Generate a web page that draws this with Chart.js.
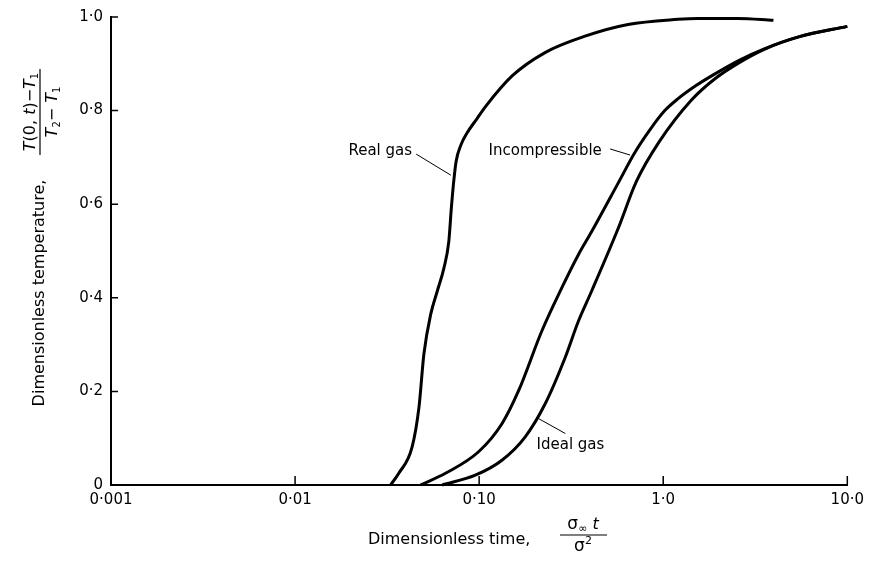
<!DOCTYPE html>
<html>
<head>
<meta charset="utf-8">
<script src="https://cdn.jsdelivr.net/npm/chart.js@4.4.1/dist/chart.umd.min.js"></script>
<style>
  html, body { margin: 0; padding: 0; background: #fff; }
  #wrap { width: 870px; height: 561px; }
</style>
</head>
<body>
<div id="wrap"><canvas id="tempchart" width="870" height="561"></canvas></div>
<script>
// values: dimensionless time (log) vs dimensionless temperature
const realGasTime = [0.033, 0.0366, 0.0432, 0.0471, 0.0501, 0.0545, 0.0592, 0.0643, 0.0684, 0.0706, 0.0728,
  0.075, 0.0795, 0.0859, 0.097, 0.108, 0.151, 0.228, 0.376, 0.644, 1.2, 1.54, 2.54, 3.97];
const realGasTemp = [0, 0.025, 0.081, 0.166, 0.28, 0.364, 0.414, 0.463, 0.52, 0.591, 0.65,
  0.692, 0.726, 0.752, 0.782, 0.808, 0.874, 0.924, 0.959, 0.984, 0.995, 0.997, 0.997, 0.993];

const incompTime = [0.048, 0.0656, 0.0993, 0.133, 0.164, 0.219, 0.281, 0.346, 0.408, 0.569, 0.7,
  0.85, 1.02, 1.2, 1.5, 1.9, 2.6, 3.54, 5.5, 10];
const incompTemp = [0, 0.025, 0.071, 0.131, 0.202, 0.329, 0.421, 0.492, 0.541, 0.645, 0.71,
  0.76, 0.8, 0.825, 0.853, 0.878, 0.908, 0.932, 0.958, 0.98];

const idealGasTime = [0.063, 0.0953, 0.133, 0.178, 0.228, 0.293, 0.346, 0.408, 0.569, 0.714,
  0.946, 1.42, 1.91, 2.6, 3.54, 5.5, 10];
const idealGasTemp = [0, 0.021, 0.053, 0.103, 0.173, 0.272, 0.35, 0.414, 0.548, 0.648,
  0.732, 0.822, 0.868, 0.903, 0.931, 0.958, 0.98];

const xTickValues = [0.001, 0.01, 0.1, 1, 10];
const xTickLabels = ['0·001', '0·01', '0·10', '1·0', '10·0'];
const yTickValues = [0, 0.2, 0.4, 0.6, 0.8, 1.0];
const yTickLabels = ['0', '0·2', '0·4', '0·6', '0·8', '1·0'];

// curve names with leader lines, in data coordinates
const curveNotes = [
  { text: 'Real gas', at: [0.0432, 0.713], align: 'right', from: [0.0455, 0.707], to: [0.0702, 0.662] },
  { text: 'Incompressible', at: [0.1125, 0.713], align: 'left', from: [0.515, 0.718], to: [0.661, 0.705] },
  { text: 'Ideal gas', at: [0.205, 0.085], align: 'left', from: [0.294, 0.11], to: [0.21, 0.142] }
];

const FONT = '"DejaVu Sans", sans-serif';

function zip(xs, ys) {
  return xs.map(function (v, i) { return { x: v, y: ys[i] }; });
}

// draw a row of text pieces (mixed italic / sub / superscript) centred on x
function drawRuns(ctx, runs, x, y) {
  let total = 0;
  runs.forEach(function (r) { ctx.font = r.f; r.w = ctx.measureText(r.t).width; total += r.w; });
  let cx = x - total / 2;
  runs.forEach(function (r) {
    ctx.font = r.f;
    ctx.fillText(r.t, cx, y + (r.dy || 0));
    cx += r.w;
  });
}

const insideTicks = {
  id: 'insideTicks',
  afterDatasetsDraw(chart) {
    const { ctx, chartArea: a, scales: { x, y } } = chart;
    ctx.save();
    ctx.strokeStyle = '#000';
    ctx.lineWidth = 1.5;
    ctx.beginPath();
    xTickValues.forEach(function (v) {
      const px = x.getPixelForValue(v);
      ctx.moveTo(px, a.bottom);
      ctx.lineTo(px, a.bottom - 9);
    });
    yTickValues.forEach(function (v) {
      const py = y.getPixelForValue(v);
      ctx.moveTo(a.left, py);
      ctx.lineTo(a.left + 7, py);
    });
    ctx.stroke();

    // curve names and leaders
    ctx.fillStyle = '#000';
    ctx.lineWidth = 1;
    ctx.font = '15px ' + FONT;
    ctx.textBaseline = 'middle';
    curveNotes.forEach(function (n) {
      ctx.textAlign = n.align;
      ctx.fillText(n.text, x.getPixelForValue(n.at[0]), y.getPixelForValue(n.at[1]));
      ctx.beginPath();
      ctx.moveTo(x.getPixelForValue(n.from[0]), y.getPixelForValue(n.from[1]));
      ctx.lineTo(x.getPixelForValue(n.to[0]), y.getPixelForValue(n.to[1]));
      ctx.stroke();
    });
    ctx.restore();
  }
};

const axisTitles = {
  id: 'axisTitles',
  afterDraw(chart) {
    const ctx = chart.ctx;
    ctx.save();
    ctx.fillStyle = '#000';
    ctx.strokeStyle = '#000';
    ctx.textAlign = 'left';
    ctx.textBaseline = 'alphabetic';

    // x title
    ctx.font = '16px ' + FONT;
    ctx.fillText('Dimensionless time,', 368, 544);
    drawRuns(ctx, [
      { t: 'σ', f: '17px ' + FONT },
      { t: '∞', f: '11px ' + FONT, dy: 3 },
      { t: ' t', f: 'italic 16px ' + FONT }
    ], 583, 529);
    ctx.lineWidth = 1.2;
    ctx.beginPath();
    ctx.moveTo(560, 535);
    ctx.lineTo(607, 535);
    ctx.stroke();
    drawRuns(ctx, [
      { t: 'σ', f: '17px ' + FONT },
      { t: '2', f: '11px ' + FONT, dy: -7 }
    ], 583, 551);

    // y title, rotated
    ctx.save();
    ctx.translate(44, 293);
    ctx.rotate(-Math.PI / 2);
    ctx.textAlign = 'center';
    ctx.font = '16px ' + FONT;
    ctx.fillText('Dimensionless temperature,', 0, 0);
    ctx.restore();

    ctx.save();
    ctx.translate(40, 112);
    ctx.rotate(-Math.PI / 2);
    ctx.textAlign = 'left';
    drawRuns(ctx, [
      { t: 'T', f: 'italic 16px ' + FONT },
      { t: '(0, ', f: '16px ' + FONT },
      { t: 't', f: 'italic 16px ' + FONT },
      { t: ')−', f: '16px ' + FONT },
      { t: 'T', f: 'italic 16px ' + FONT },
      { t: '1', f: '10px ' + FONT, dy: 3 }
    ], 0, -5);
    ctx.lineWidth = 1.2;
    ctx.beginPath();
    ctx.moveTo(-43, 0);
    ctx.lineTo(43, 0);
    ctx.stroke();
    drawRuns(ctx, [
      { t: 'T', f: 'italic 16px ' + FONT },
      { t: '2', f: '10px ' + FONT, dy: 3 },
      { t: '− ', f: '16px ' + FONT },
      { t: 'T', f: 'italic 16px ' + FONT },
      { t: '1', f: '10px ' + FONT, dy: 3 }
    ], 0, 17);
    ctx.restore();

    ctx.restore();
  }
};

function lineSet(label, xs, ys) {
  return {
    label: label,
    data: zip(xs, ys),
    showLine: true,
    borderColor: '#000',
    borderWidth: 3,
    pointRadius: 0,
    fill: false,
    cubicInterpolationMode: 'monotone',
    clip: false
  };
}

Chart.defaults.font.family = FONT;
Chart.defaults.color = '#000';

const tempchart = new Chart(document.getElementById('tempchart'), {
  type: 'scatter',
  data: {
    datasets: [
      lineSet('Real gas', realGasTime, realGasTemp),
      lineSet('Incompressible', incompTime, incompTemp),
      lineSet('Ideal gas', idealGasTime, idealGasTemp)
    ]
  },
  options: {
    responsive: false,
    animation: false,
    devicePixelRatio: 1,
    layout: { padding: { left: 0, top: 14, right: 20, bottom: 0 } },
    plugins: {
      legend: { display: false },
      tooltip: { enabled: false }
    },
    scales: {
      x: {
        type: 'logarithmic',
        min: 0.001,
        max: 10,
        afterBuildTicks: function (scale) {
          scale.ticks = xTickValues.map(function (v) { return { value: v }; });
        },
        afterFit: function (scale) { scale.height = 76; },
        grid: { display: false, drawTicks: false },
        border: { display: true, color: '#000', width: 2 },
        ticks: {
          padding: 6,
          maxRotation: 0,
          font: { size: 15 },
          callback: function (value, index) { return xTickLabels[index]; }
        }
      },
      y: {
        min: 0,
        max: 1,
        afterBuildTicks: function (scale) {
          scale.ticks = yTickValues.map(function (v) { return { value: v }; });
        },
        afterFit: function (scale) { scale.width = 111; },
        grid: { display: false, drawTicks: false },
        border: { display: true, color: '#000', width: 2 },
        ticks: {
          padding: 8,
          font: { size: 15 },
          callback: function (value, index) { return yTickLabels[index]; }
        }
      }
    }
  },
  plugins: [insideTicks, axisTitles]
});
</script>
</body>
</html>
